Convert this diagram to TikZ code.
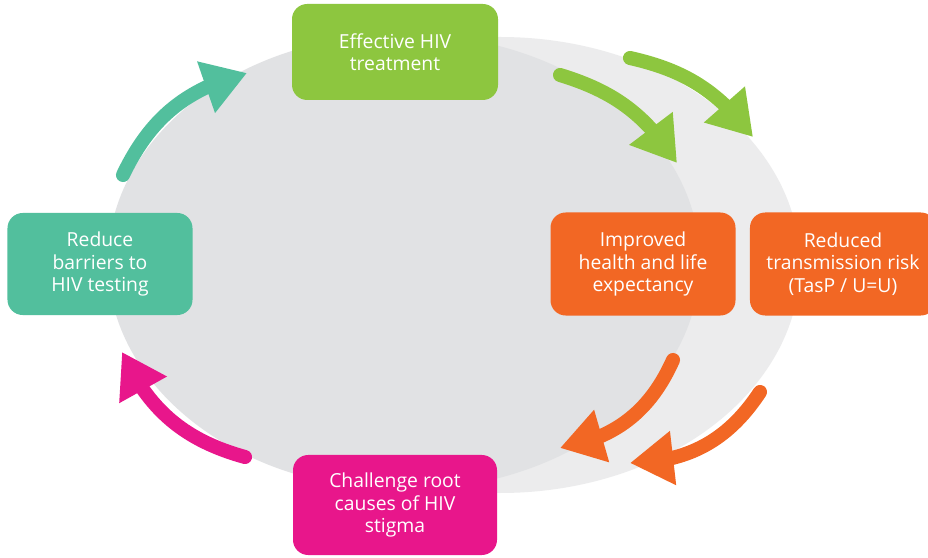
\documentclass[tikz,border=0pt]{standalone}
\usepackage{fontspec}
\setmainfont{Open Sans}
\usetikzlibrary{positioning,arrows.meta,bending}
\definecolor{hivgreen}{HTML}{8DC63F}
\definecolor{hivteal}{HTML}{52BF9D}
\definecolor{hivorange}{HTML}{F26724}
\definecolor{hivpink}{HTML}{E8168B}
\definecolor{circdark}{HTML}{E1E2E4}
\definecolor{circlight}{HTML}{ECECED}
\tikzset{
  stage/.style={
    rectangle,
    rounded corners=13pt,
    text=white,
    align=center,
    font=\fontsize{16.5}{19}\selectfont,
    inner sep=0pt},
  cycle/.style={
    line width=12pt,
    line cap=round,
    -{Triangle[length=37pt,width=44pt,flex]},
    bend left=25},
}

\begin{document}
\begin{tikzpicture}[x=0.03cm, y=0.03cm]
  \useasboundingbox[fill=white] (0,0) rectangle (928,557);
  % the two overlapping circles
  \fill[circlight] (500,292) ellipse [x radius=300, y radius=228];
  \fill[circdark] (404,295) ellipse [x radius=296, y radius=228];

  \node[stage, fill=hivgreen, minimum width=6.18cm, minimum height=2.88cm]
    (treat) at (395,505) {Effective HIV\\treatment};
  \node[stage, fill=hivteal, minimum width=5.55cm, minimum height=3.06cm]
    (test) at (100,293) {Reduce\\barriers to\\HIV testing};
  \node[stage, fill=hivorange, minimum width=5.55cm, minimum height=3.09cm]
    (health) at (643,293) {Improved\\health and life\\expectancy};
  \node[stage, fill=hivorange, minimum width=5.58cm, minimum height=3.09cm,
    right=0.42cm of health] (risk) {Reduced\\transmission risk\\(TasP / U=U)};
  \node[stage, fill=hivpink, minimum width=6.12cm, minimum height=3cm]
    (stigma) at (395,52) {Challenge root\\causes of HIV\\stigma};

  % arrow ends
  \coordinate (tealtail) at (123,382);
  \coordinate (tealtip) at (247,484);
  \coordinate (greentailA) at (560,482);
  \coordinate (greentipA) at (677,394);
  \coordinate (greentailB) at (630,499);
  \coordinate (greentipB) at (753,420);
  \coordinate (orangetailA) at (673,197);
  \coordinate (orangetipA) at (560,109);
  \coordinate (orangetailB) at (760,165);
  \coordinate (orangetipB) at (630,94);
  \coordinate (pinktail) at (245,100);
  \coordinate (pinktip) at (122,205);

  \draw[cycle, hivteal] (tealtail) to (tealtip);
  \draw[cycle, hivgreen, bend left=20] (greentailA) to (greentipA);
  \draw[cycle, hivgreen, bend left=20] (greentailB) to (greentipB);
  \draw[cycle, hivorange, bend left=28] (orangetailA) to (orangetipA);
  \draw[cycle, hivorange, bend left=28] (orangetailB) to (orangetipB);
  \draw[cycle, hivpink] (pinktail) to (pinktip);
\end{tikzpicture}
\end{document}
